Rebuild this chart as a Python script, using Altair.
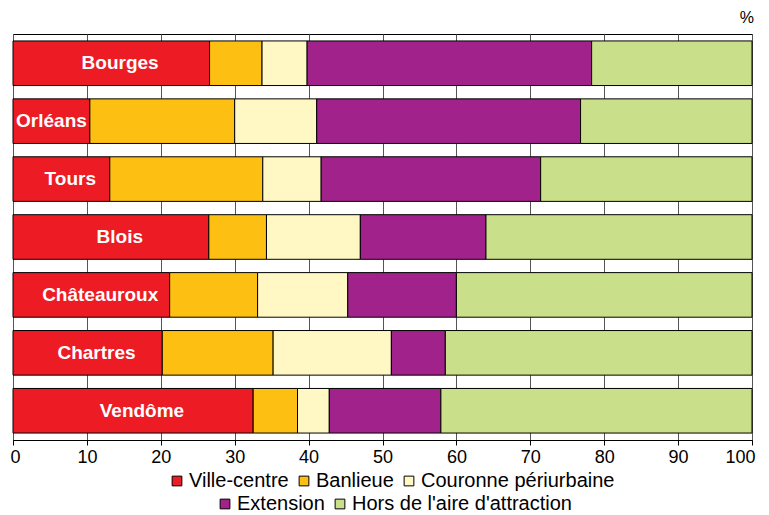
import altair as alt
import pandas as pd

cities = ["Bourges", "Orléans", "Tours", "Blois", "Châteauroux", "Chartres", "Vendôme"]
categories = ["Ville-centre", "Banlieue", "Couronne périurbaine", "Extension", "Hors de l'aire d'attraction"]
colors = ["#ED1C24", "#FCBF12", "#FFF8C4", "#A0228A", "#C9DF8A"]

ville = [26.6, 10.4, 13.1, 26.5, 21.2, 20.2, 32.5]
banlieue = [7.1, 19.6, 20.7, 7.8, 11.9, 15.0, 6.0]
couronne = [6.1, 11.1, 7.9, 12.7, 12.2, 16.0, 4.3]
extension = [38.5, 35.7, 29.7, 17.0, 14.7, 7.3, 15.1]
hors = [21.7, 23.2, 28.6, 36.0, 40.0, 41.5, 42.1]

series = [ville, banlieue, couronne, extension, hors]
rows = []
for ci, city in enumerate(cities):
    for k, cat in enumerate(categories):
        rows.append({"city": city, "cat": cat, "ord": k, "value": series[k][ci]})
df = pd.DataFrame(rows)

FONT = "Liberation Sans"

base = alt.Chart(df).transform_stack(
    stack="value", groupby=["city"], as_=["x0", "x1"],
    sort=[alt.SortField("ord", order="ascending")]
)

xaxis = alt.Axis(
    title=None, values=list(range(0, 101, 10)), grid=True, gridColor="#555555", gridWidth=1,
    domainColor="black", domainWidth=1, tickColor="black", tickSize=5, labelFontSize=18,
    labelFont=FONT, labelColor="black", labelPadding=3, labelFlush=True, labelFlushOffset=3
)
xscale = alt.Scale(domain=[0, 100], nice=False, zero=True)
yscale = alt.Scale(paddingInner=0.23, paddingOuter=0.12)


def bars(cats, cols, lx, ly):
    return base.transform_filter(
        alt.FieldOneOfPredicate(field="cat", oneOf=cats)
    ).mark_bar(stroke="black", strokeWidth=1).encode(
        x=alt.X("x0:Q", scale=xscale, axis=xaxis),
        x2="x1:Q",
        y=alt.Y("city:N", sort=cities, axis=None, scale=yscale),
        color=alt.Color(
            "cat:N", sort=cats, scale=alt.Scale(domain=cats, range=cols),
            legend=alt.Legend(
                title=None, orient="none", legendX=lx, legendY=ly, direction="horizontal",
                columns=len(cats), symbolType="square", symbolSize=95, symbolStrokeColor="black",
                symbolStrokeWidth=1, symbolOpacity=1, labelFontSize=20, labelFont=FONT,
                labelColor="black", labelOffset=2, columnPadding=5, padding=0, labelLimit=500
            ),
        ),
    )


bars1 = bars(categories[:3], colors[:3], 154, 437)
bars2 = bars(categories[3:], colors[3:], 202, 460)

labels = base.transform_filter(alt.datum.cat == "Ville-centre").transform_calculate(
    mid="datum.x1 / 2 + (datum.x1 > 12 ? 1.2 : 0)"
).mark_text(color="white", fontWeight="bold", fontSize=19, font=FONT).encode(
    x=alt.X("mid:Q", scale=xscale, axis=xaxis),
    y=alt.Y("city:N", sort=cities, axis=None, scale=yscale),
    text="city:N",
)

chart = alt.layer(bars1, bars2, labels).resolve_scale(color="independent").properties(
    width=739, height=406,
    autosize=alt.AutoSizeParams(type="none"),
    padding={"left": 5, "top": 26, "right": 9, "bottom": 90},
    title=alt.TitleParams("%", anchor="end", fontSize=16, fontWeight="normal", font=FONT,
                          offset=8, color="black", dx=-1),
).configure_view(stroke="black", strokeWidth=1)

chart.save("out.html", embed_options={"renderer": "svg", "actions": False})
